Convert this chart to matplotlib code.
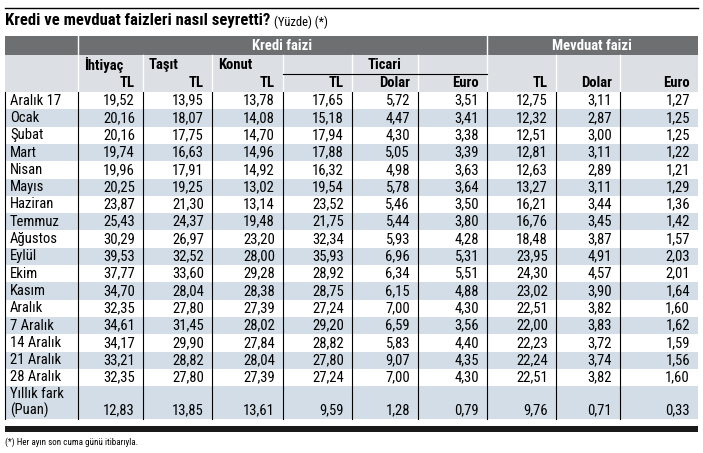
import matplotlib.pyplot as plt
from matplotlib.patches import Rectangle
from matplotlib import font_manager

names = {f.name for f in font_manager.fontManager.ttflist}
fam = [f for f in ['Liberation Sans Narrow', 'DejaVu Sans Condensed', 'Roboto Condensed'] if f in names]
plt.rcParams['font.family'] = fam + ['DejaVu Sans']
narrow = bool(fam)

rows = ['Aralık 17', 'Ocak', 'Şubat', 'Mart', 'Nisan', 'Mayıs', 'Haziran', 'Temmuz',
        'Ağustos', 'Eylül', 'Ekim', 'Kasım', 'Aralık', '7 Aralık', '14 Aralık',
        '21 Aralık', '28 Aralık']
ihtiyac = ['19,52', '20,16', '20,16', '19,74', '19,96', '20,25', '23,87', '25,43', '30,29',
           '39,53', '37,77', '34,70', '32,35', '34,61', '34,17', '33,21', '32,35']
tasit = ['13,95', '18,07', '17,75', '16,63', '17,91', '19,25', '21,30', '24,37', '26,97',
         '32,52', '33,60', '28,04', '27,80', '31,45', '29,90', '28,82', '27,80']
konut = ['13,78', '14,08', '14,70', '14,96', '14,92', '13,02', '13,14', '19,48', '23,20',
         '28,00', '29,28', '28,38', '27,39', '28,02', '27,84', '28,04', '27,39']
ticari_tl = ['17,65', '15,18', '17,94', '17,88', '16,32', '19,54', '23,52', '21,75', '32,34',
             '35,93', '28,92', '28,75', '27,24', '29,20', '28,82', '27,80', '27,24']
ticari_usd = ['5,72', '4,47', '4,30', '5,05', '4,98', '5,78', '5,46', '5,44', '5,93',
              '6,96', '6,34', '6,15', '7,00', '6,59', '5,83', '9,07', '7,00']
ticari_eur = ['3,51', '3,41', '3,38', '3,39', '3,63', '3,64', '3,50', '3,80', '4,28',
              '5,31', '5,51', '4,88', '4,30', '3,56', '4,40', '4,35', '4,30']
mevduat_tl = ['12,75', '12,32', '12,51', '12,81', '12,63', '13,27', '16,21', '16,76', '18,48',
              '23,95', '24,30', '23,02', '22,51', '22,00', '22,23', '22,24', '22,51']
mevduat_usd = ['3,11', '2,87', '3,00', '3,11', '2,89', '3,11', '3,44', '3,45', '3,87',
               '4,91', '4,57', '3,90', '3,82', '3,83', '3,72', '3,74', '3,82']
mevduat_eur = ['1,27', '1,25', '1,25', '1,22', '1,21', '1,29', '1,36', '1,42', '1,57',
               '2,03', '2,01', '1,64', '1,60', '1,62', '1,59', '1,56', '1,60']
yillik_fark = ['12,83', '13,85', '13,61', '9,59', '1,28', '0,79', '9,76', '0,71', '0,33']

columns = [ihtiyac, tasit, konut, ticari_tl, ticari_usd, ticari_eur,
           mevduat_tl, mevduat_usd, mevduat_eur]
col_edges = [5, 78, 143, 212, 283, 352, 418, 487, 556, 620, 698]

fig = plt.figure(figsize=(7.03, 4.53), dpi=100)
ax = fig.add_axes([0, 0, 1, 1])
ax.set_xlim(0, 703)
ax.set_ylim(453, 0)
ax.axis('off')

dark = '#6e6f71'
light = '#dcdfe3'
blue = '#d2dde7'
fs = 10.5 if narrow else 9.5

ax.plot([5, 698], [8, 8], color='black', lw=1)
t = ax.text(5, 21, 'Kredi ve mevduat faizleri nasıl seyretti?', fontsize=12, fontweight='bold',
            va='center', ha='left')
fig.canvas.draw()
bb = t.get_window_extent().transformed(ax.transData.inverted())
ax.text(max(bb.x0, bb.x1) + 4, 22, '(Yüzde) (*)', fontsize=9, va='center', ha='left')

# header
ax.add_patch(Rectangle((5, 36), 693, 19, color=dark, lw=0))
ax.add_patch(Rectangle((5, 55), 693, 37, color=light, lw=0))
ax.text(282, 45.5, 'Kredi faizi', color='white', fontsize=fs, fontweight='bold', ha='center', va='center')
ax.text(592, 45.5, 'Mevduat faizi', color='white', fontsize=fs, fontweight='bold', ha='center', va='center')
for x in col_edges[1:-1]:
    top = 36 if x in (78, 487) else 55
    ax.plot([x, x], [top, 92], color='white', lw=1)
ax.plot([283, 487], [74, 74], color='black', lw=0.8)
top_labels = ['İhtiyaç', 'Taşıt', 'Konut']
for i, lab in enumerate(top_labels):
    ax.text(col_edges[i + 1] + 6, 65, lab, fontsize=fs, fontweight='bold', ha='left', va='center')
ax.text(385, 65, 'Ticari', fontsize=fs, fontweight='bold', ha='center', va='center')
sub = ['TL', 'TL', 'TL', 'TL', 'Dolar', 'Euro', 'TL', 'Dolar', 'Euro']
for i, lab in enumerate(sub):
    ax.text(col_edges[i + 2] - 8, 83, lab, fontsize=fs, fontweight='bold', ha='right', va='center')

# body
y0 = 92
rh = 17.3
for r, name in enumerate(rows):
    y = y0 + r * rh
    if r % 2 == 1:
        ax.add_patch(Rectangle((5, y), 693, rh, color=blue, lw=0))
    ax.text(10, y + rh / 2, name, fontsize=fs, ha='left', va='center')
    for c, col in enumerate(columns):
        ax.text(col_edges[c + 2] - 8, y + rh / 2, col[r], fontsize=fs, ha='right', va='center')
yl = y0 + len(rows) * rh
ax.add_patch(Rectangle((5, yl), 693, 33, color=blue, lw=0))
ax.text(10, yl + 8, 'Yıllık fark', fontsize=fs, ha='left', va='center')
ax.text(10, yl + 24, '(Puan)', fontsize=fs, ha='left', va='center')
for c, v in enumerate(yillik_fark):
    ax.text(col_edges[c + 2] - 8, yl + 24, v, fontsize=fs, ha='right', va='center')
ybot = yl + 33
for x in col_edges[:-1]:
    ax.plot([x, x], [y0, ybot], color='black', lw=0.8)

ax.add_patch(Rectangle((5, 426), 693, 6, color='#1a1a1a', lw=0))
ax.text(5, 442, '(*) Her ayın son cuma günü itibarıyla.', fontsize=6.5, ha='left', va='center')

fig.savefig('out.png', dpi=100)
